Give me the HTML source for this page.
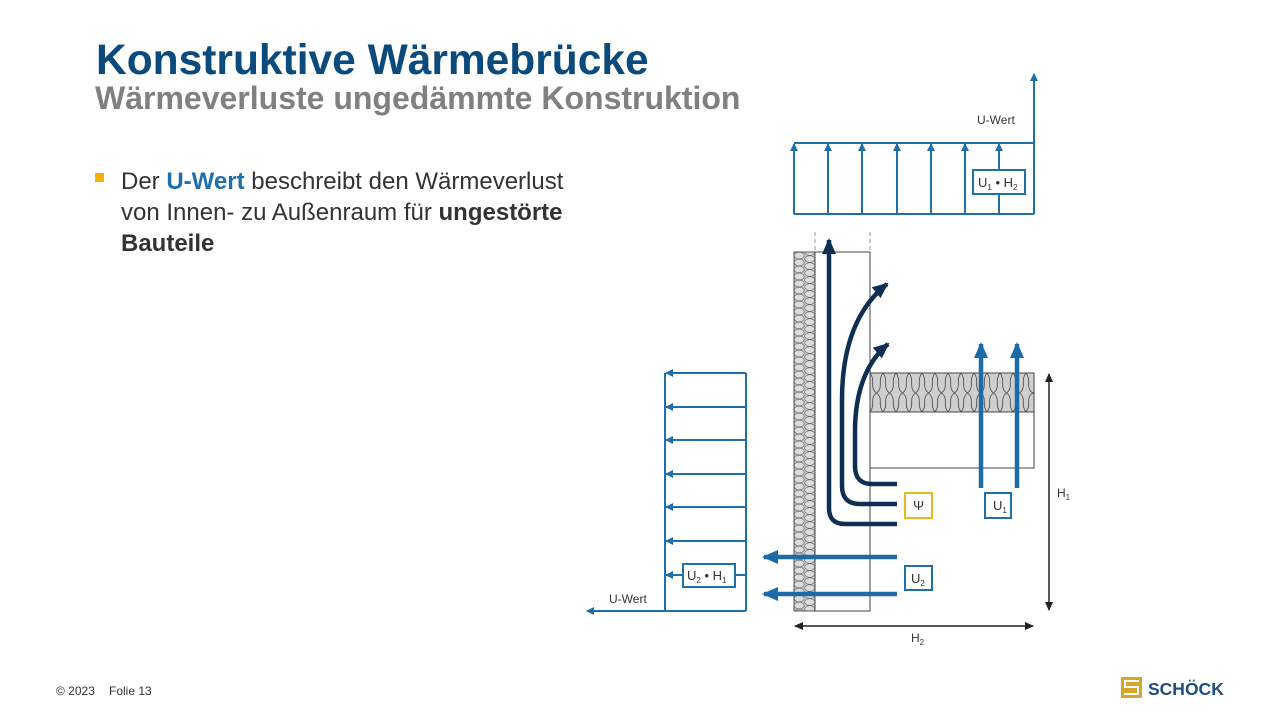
<!DOCTYPE html>
<html><head><meta charset="utf-8">
<style>
html,body{margin:0;padding:0;background:#fff;}
body{width:1280px;height:720px;overflow:hidden;position:relative;font-family:"Liberation Sans",Arial,sans-serif;}
</style></head>
<body>
<svg width="1280" height="720" viewBox="0 0 1280 720" xmlns="http://www.w3.org/2000/svg" style="position:absolute;left:0;top:0;font-family:'Liberation Sans',Arial,sans-serif">
<defs>
  <pattern id="wallp" x="794" y="252" width="21" height="7" patternUnits="userSpaceOnUse">
    <rect width="21" height="7" fill="#c8c8c8"/>
    <ellipse cx="5.2" cy="3.5" rx="5" ry="3.3" fill="#dcdcdc" stroke="#666" stroke-width="0.6"/>
    <ellipse cx="15.7" cy="0" rx="5" ry="3.3" fill="#dcdcdc" stroke="#666" stroke-width="0.6"/>
    <ellipse cx="15.7" cy="7" rx="5" ry="3.3" fill="#dcdcdc" stroke="#666" stroke-width="0.6"/>
  </pattern>
  <pattern id="slabp" x="870" y="373" width="13" height="39" patternUnits="userSpaceOnUse">
    <rect width="13" height="39" fill="#cfcfcf"/>
    <path d="M0,0 C6,8 -1,14 6.5,20 C14,26 7,31 13,39 M13,0 C7,8 14,14 6.5,20 C-1,26 6,31 0,39" fill="none" stroke="#444" stroke-width="0.8"/>
  </pattern>
  <marker id="ab" markerWidth="8" markerHeight="8" refX="7" refY="4" orient="auto" markerUnits="userSpaceOnUse">
    <path d="M0,0 L8,4 L0,8 Z" fill="#1f6fab"/>
  </marker>
  <marker id="abig" markerWidth="16" markerHeight="14" refX="14" refY="7" orient="auto" markerUnits="userSpaceOnUse">
    <path d="M0,0 L16,7 L0,14 Z" fill="#1d6aa8"/>
  </marker>
  <marker id="an" markerWidth="16" markerHeight="14" refX="14" refY="7" orient="auto" markerUnits="userSpaceOnUse">
    <path d="M0,0 L16,7 L0,14 Z" fill="#0e2f52"/>
  </marker>
  <marker id="ak" markerWidth="9" markerHeight="8" refX="8" refY="4" orient="auto" markerUnits="userSpaceOnUse">
    <path d="M0,0 L9,4 L0,8 Z" fill="#222"/>
  </marker>
</defs>

<text x="96" y="74" font-size="42.5" font-weight="bold" fill="#0b4a7c">Konstruktive Wärmebrücke</text>
<text x="95" y="109" font-size="32" font-weight="bold" fill="#808080">Wärmeverluste ungedämmte Konstruktion</text>
<rect x="95" y="173" width="9" height="9" fill="#f0b400"/>
<text font-size="24" fill="#333">
  <tspan x="121" y="189">Der <tspan fill="#1f6fab" font-weight="bold">U-Wert</tspan> beschreibt den Wärmeverlust</tspan>
  <tspan x="121" y="220">von Innen- zu Außenraum für <tspan font-weight="bold">ungestörte</tspan></tspan>
  <tspan x="121" y="251" font-weight="bold">Bauteile</tspan>
</text>

<text x="56" y="695" font-size="12" fill="#333">© 2023</text>
<text x="109" y="695" font-size="12" fill="#333">Folie 13</text>
<g>
  <rect x="1121" y="677" width="21" height="21" fill="#d8a62a"/>
  <path d="M1139,681 H1125 V687 H1138 V694 H1124" fill="none" stroke="#fff" stroke-width="2"/>
  <text x="1148" y="695" font-size="17.5" font-weight="bold" fill="#1c4d7e">SCHÖCK</text>
</g>

<g stroke="#1f6fab" stroke-width="2" fill="none">
  <path d="M794,214 H1034"/>
  <path d="M794,143 H1034"/>
  <line x1="794" y1="214" x2="794" y2="144" marker-end="url(#ab)"/>
  <line x1="828" y1="214" x2="828" y2="144" marker-end="url(#ab)"/>
  <line x1="862" y1="214" x2="862" y2="144" marker-end="url(#ab)"/>
  <line x1="897" y1="214" x2="897" y2="144" marker-end="url(#ab)"/>
  <line x1="931" y1="214" x2="931" y2="144" marker-end="url(#ab)"/>
  <line x1="965" y1="214" x2="965" y2="144" marker-end="url(#ab)"/>
  <line x1="999" y1="214" x2="999" y2="144" marker-end="url(#ab)"/>
  <line x1="1034" y1="214" x2="1034" y2="74" marker-end="url(#ab)"/>
  <rect x="973" y="170" width="52" height="24" fill="#fff"/>
</g>
<text x="977" y="124" font-size="12" fill="#333">U-Wert</text>
<text x="978" y="187" font-size="13" fill="#333">U<tspan font-size="8" dy="3">1</tspan><tspan dy="-3"> • H</tspan><tspan font-size="8" dy="3">2</tspan></text>

<line x1="815" y1="232" x2="815" y2="252" stroke="#999" stroke-dasharray="4,3"/>
<line x1="870" y1="232" x2="870" y2="252" stroke="#999" stroke-dasharray="4,3"/>
<rect x="794" y="252" width="21" height="359" fill="url(#wallp)" stroke="#555" stroke-width="1"/>
<rect x="815" y="252" width="55" height="359" fill="#fff" stroke="#444" stroke-width="1"/>
<rect x="870" y="373" width="164" height="39" fill="url(#slabp)" stroke="#444" stroke-width="1"/>
<rect x="870" y="412" width="164" height="56" fill="#fff" stroke="#444" stroke-width="1"/>

<g stroke="#0e2f52" stroke-width="4.5" fill="none" stroke-linecap="butt">
  <path d="M897,524 H845 Q829,524 829,508 V240" marker-end="url(#an)"/>
  <path d="M897,504 H860 Q842,504 842,486 V400 Q842,320 887,284" marker-end="url(#an)"/>
  <path d="M897,484 H872 Q855,484 855,466 V432 Q855,372 888,344" marker-end="url(#an)"/>
</g>

<g stroke="#1d6aa8" stroke-width="4.5" fill="none">
  <line x1="981" y1="488" x2="981" y2="344" marker-end="url(#abig)"/>
  <line x1="1017" y1="488" x2="1017" y2="344" marker-end="url(#abig)"/>
  <line x1="897" y1="557" x2="764" y2="557" marker-end="url(#abig)"/>
  <line x1="897" y1="594" x2="764" y2="594" marker-end="url(#abig)"/>
</g>

<rect x="905" y="493" width="27" height="25" fill="#fff" stroke="#e8b923" stroke-width="2"/>
<text x="918.5" y="510" font-size="13" fill="#333" text-anchor="middle">Ψ</text>
<rect x="985" y="493" width="26" height="25" fill="#fff" stroke="#1f6fab" stroke-width="2"/>
<text x="993" y="510" font-size="13" fill="#333">U<tspan font-size="8" dy="3">1</tspan></text>
<rect x="905" y="566" width="27" height="24" fill="#fff" stroke="#1f6fab" stroke-width="2"/>
<text x="911" y="583" font-size="13" fill="#333">U<tspan font-size="8" dy="3">2</tspan></text>

<g stroke="#1f6fab" stroke-width="2" fill="none">
  <line x1="665" y1="373" x2="665" y2="611"/>
  <line x1="746" y1="373" x2="746" y2="611"/>
  <line x1="746" y1="373" x2="666" y2="373" marker-end="url(#ab)"/>
  <line x1="746" y1="407" x2="666" y2="407" marker-end="url(#ab)"/>
  <line x1="746" y1="440" x2="666" y2="440" marker-end="url(#ab)"/>
  <line x1="746" y1="474" x2="666" y2="474" marker-end="url(#ab)"/>
  <line x1="746" y1="507" x2="666" y2="507" marker-end="url(#ab)"/>
  <line x1="746" y1="541" x2="666" y2="541" marker-end="url(#ab)"/>
  <line x1="746" y1="575" x2="666" y2="575" marker-end="url(#ab)"/>
  <line x1="746" y1="611" x2="587" y2="611" marker-end="url(#ab)"/>
  <rect x="683" y="564" width="52" height="23" fill="#fff"/>
</g>
<text x="687" y="580" font-size="13" fill="#333">U<tspan font-size="8" dy="3">2</tspan><tspan dy="-3"> • H</tspan><tspan font-size="8" dy="3">1</tspan></text>
<text x="609" y="603" font-size="12" fill="#333">U-Wert</text>

<g stroke="#222" stroke-width="1.5" fill="none">
  <line x1="1049" y1="490" x2="1049" y2="374" marker-end="url(#ak)"/>
  <line x1="1049" y1="490" x2="1049" y2="610" marker-end="url(#ak)"/>
  <line x1="914" y1="626" x2="795" y2="626" marker-end="url(#ak)"/>
  <line x1="914" y1="626" x2="1033" y2="626" marker-end="url(#ak)"/>
</g>
<text x="1057" y="497" font-size="12" fill="#333">H<tspan font-size="8" dy="3">1</tspan></text>
<text x="911" y="642" font-size="12" fill="#333">H<tspan font-size="8" dy="3">2</tspan></text>
</svg>
</body></html>
